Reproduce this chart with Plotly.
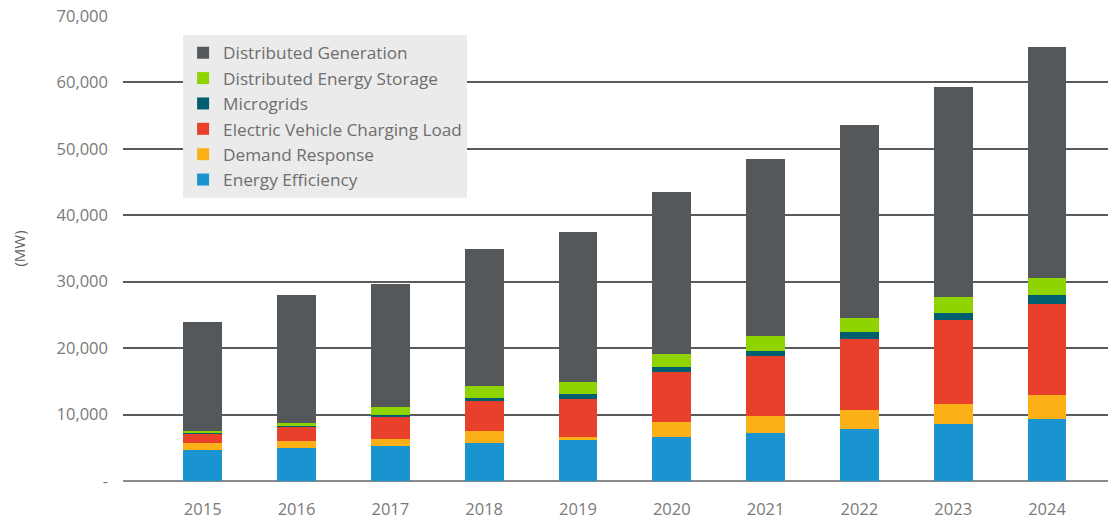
import plotly.graph_objects as go

years = ["2015", "2016", "2017", "2018", "2019", "2020", "2021", "2022", "2023", "2024"]

energy_efficiency = [4700, 5000, 5250, 5700, 6150, 6600, 7250, 7800, 8550, 9300]
demand_response = [1000, 950, 1100, 1900, 400, 2250, 2500, 2950, 3100, 3650]
ev_charging = [1400, 2300, 3400, 4500, 5800, 7600, 9050, 10700, 12550, 13750]
microgrids = [150, 150, 200, 450, 700, 750, 800, 950, 1150, 1250]
energy_storage = [250, 300, 1200, 1750, 1800, 1900, 2200, 2150, 2350, 2550]
distributed_generation = [16500, 19300, 18550, 20700, 22650, 24400, 26700, 29050, 31600, 34850]

y_ticks = [0, 10000, 20000, 30000, 40000, 50000, 60000, 70000]
y_tick_labels = ["-", "10,000", "20,000", "30,000", "40,000", "50,000", "60,000", "70,000"]

series = [
    ("Energy Efficiency", energy_efficiency, "#1a94d0"),
    ("Demand Response", demand_response, "#fbb017"),
    ("Electric Vehicle Charging Load", ev_charging, "#e8402b"),
    ("Microgrids", microgrids, "#005f6e"),
    ("Distributed Energy Storage", energy_storage, "#8fd400"),
    ("Distributed Generation", distributed_generation, "#55585a"),
]

fig = go.Figure()
for name, vals, color in series:
    fig.add_trace(go.Bar(
        x=years, y=vals, name=name, marker=dict(color=color, line=dict(width=0)),
    ))

font_family = "Open Sans, Lato, sans-serif"
fig.update_layout(
    barmode="stack",
    bargap=0.585,
    width=1111, height=520,
    margin=dict(l=123, r=3, t=16, b=39),
    paper_bgcolor="white", plot_bgcolor="white",
    font=dict(family=font_family, color="#777777", size=16.5),
    showlegend=True,
    legend=dict(
        x=0.061, y=0.959, xanchor="left", yanchor="top",
        bgcolor="#ebebeb", traceorder="reversed",
        font=dict(size=17.2, color="#6e6e6e", family=font_family),
        itemsizing="constant",
        borderwidth=0,
    ),
    xaxis=dict(
        type="category", range=[-0.85, 9.65], showgrid=False, showline=False,
        ticks="", ticklabelstandoff=16, automargin=False,
        tickfont=dict(size=16.5, color="#7a7a7a"),
    ),
    yaxis=dict(
        range=[0, 70000], tickvals=y_ticks, ticktext=y_tick_labels,
        showgrid=True, gridcolor="#5a5a5a", gridwidth=2,
        zeroline=True, zerolinecolor="#8a8a8a", zerolinewidth=2,
        showline=False, ticks="", ticklabelstandoff=14, automargin=False,
        tickfont=dict(size=16.5, color="#7a7a7a"),
        title=dict(text="(MW)", font=dict(size=15, color="#5e5e5e"), standoff=27),
    ),
)

fig.write_html("out.html", config={"displayModeBar": False},
               post_script="document.body.style.margin='0';")
